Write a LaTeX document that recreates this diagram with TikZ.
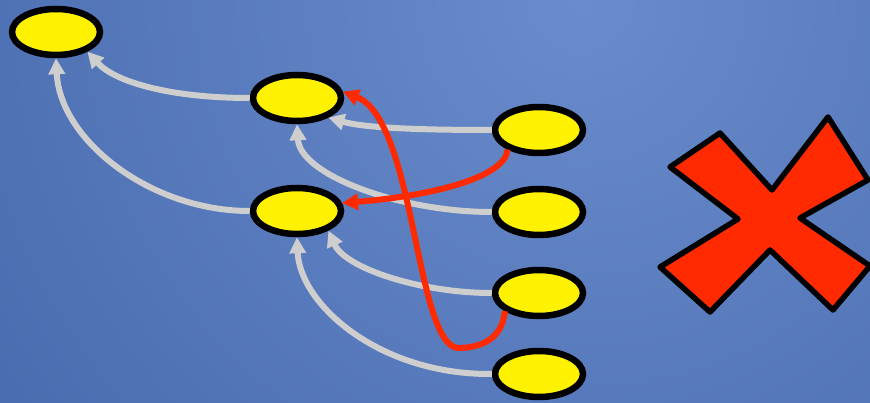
\documentclass[tikz,border=0pt]{standalone}
\usepackage{tikz}
\usetikzlibrary{arrows.meta, shapes.geometric}

\definecolor{bgdark}{RGB}{50,86,156}
\definecolor{bglight}{RGB}{106,140,204}
\definecolor{edgegray}{RGB}{206,206,206}
\definecolor{crossred}{RGB}{255,42,0}

\tikzset{
    blob/.style={ellipse, draw=black, line width=6.5pt, fill=yellow,
        minimum width=88pt, minimum height=46pt, inner sep=0pt},
    link/.style={draw=edgegray, line width=6pt, -{Triangle[length=16pt, width=16pt]}},
    badlink/.style={draw=crossred, line width=6pt, -{Triangle[length=16pt, width=16pt]}}
}

\begin{document}
\begin{tikzpicture}[x=1pt, y=-1pt]

    % =================================================================
    % 1. BACKGROUND
    % =================================================================
    \useasboundingbox (0,0) rectangle (870,403);
    \begin{scope}
        \clip (0,0) rectangle (870,403);
        \shade[inner color=bglight, outer color=bgdark] (580,0) circle (1200);
    \end{scope}

    % =================================================================
    % 2. NODES
    % =================================================================
    % Left column
    \node[blob] (A) at (56,32) {};
    % Middle column
    \node[blob] (B) at (297,98) {};
    \node[blob] (C) at (297,211) {};
    % Right column
    \node[blob] (P) at (539,130) {};
    \node[blob] (Q) at (539,212) {};
    \node[blob] (R) at (539,293) {};
    \node[blob] (S) at (539,374) {};

    % Turning point of the long red link
    \coordinate (Bend) at (457,348);

    % =================================================================
    % 3. GRAY LINKS
    % =================================================================
    \draw[link] (B.west) .. controls (170,98) and (115,82) .. (A.-32);
    \draw[link] (C.west) .. controls (150,211) and (60,140) .. (A.south);

    \draw[link] (P.west) .. controls (420,130) and (365,128) .. (B.-32);
    \draw[link] (Q.west) .. controls (400,212) and (300,175) .. (B.south);

    \draw[link] (R.west) .. controls (420,293) and (345,268) .. (C.-32);
    \draw[link] (S.west) .. controls (380,375) and (300,305) .. (C.south);

    % =================================================================
    % 4. RED LINKS
    % =================================================================
    \draw[badlink] (P.-148) .. controls (505,178) and (430,196) .. (C.10);
    \draw[badlink] (R.-152) .. controls (502,340) and (480,348) .. (Bend)
        .. controls (415,340) and (415,120) .. (B.8);

    % =================================================================
    % 5. CROSS
    % =================================================================
    \draw[fill=crossred, line width=5.5pt, line join=round]
        (670,167) -- (720,133) -- (772,190) -- (828,117) -- (868,180)
        -- (800,218) -- (870,266) -- (833,310) -- (770,250) -- (710,312)
        -- (660,267) -- (738,219) -- cycle;

\end{tikzpicture}
\end{document}
